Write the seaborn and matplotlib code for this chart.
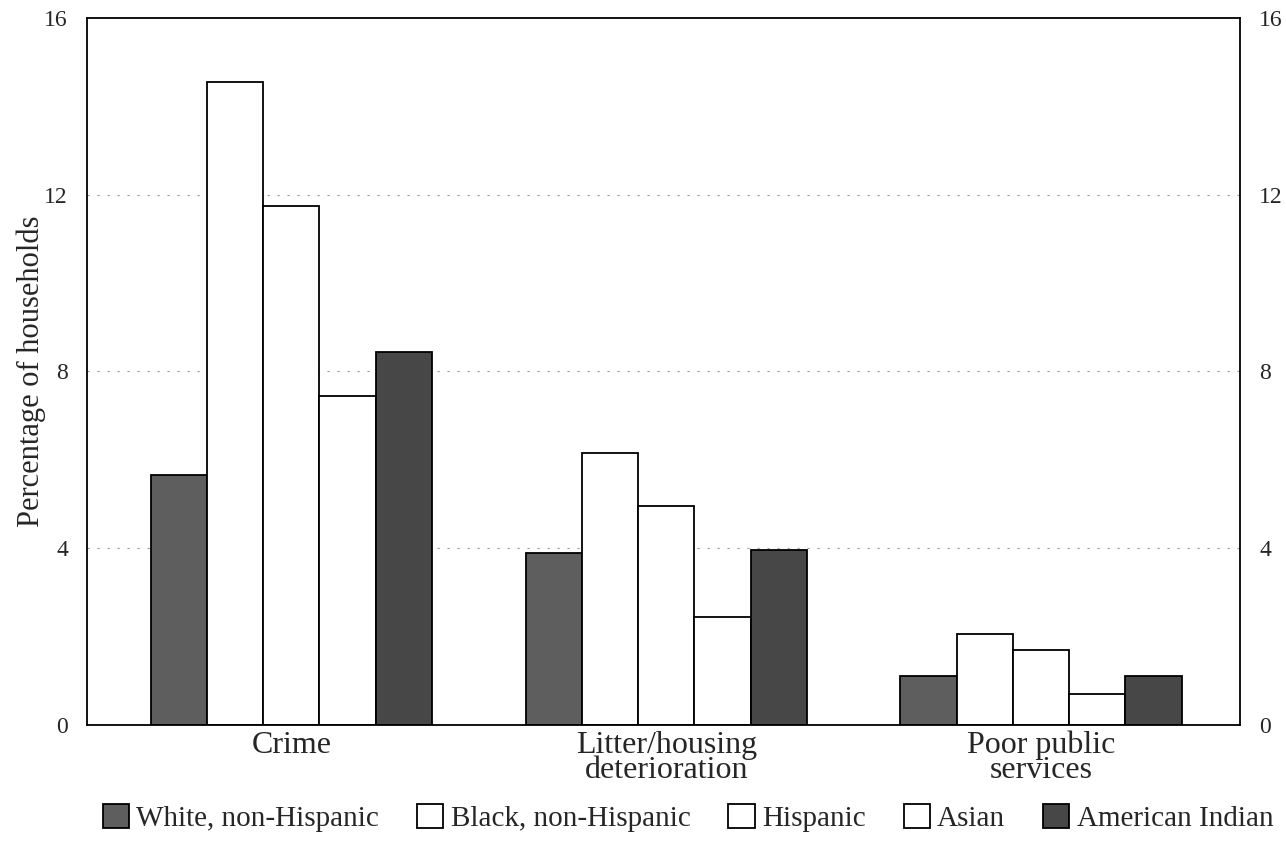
import pandas as pd
import matplotlib.pyplot as plt
import seaborn as sns
from matplotlib.patches import Patch

# data
categories = ["Crime", "Litter/housing\ndeterioration", "Poor public\nservices"]
groups = ["White, non-Hispanic", "Black, non-Hispanic", "Hispanic", "Asian", "American Indian"]
white = [5.65, 3.9, 1.1]
black = [14.55, 6.15, 2.05]
hispanic = [11.75, 4.95, 1.7]
asian = [7.45, 2.45, 0.7]
amer_indian = [8.45, 3.95, 1.1]
yticks = [0, 4, 8, 12, 16]

colors = ["#5e5e5e", "white", "white", "white", "#474747"]

df = pd.DataFrame({
    "category": categories * 5,
    "group": [g for g in groups for _ in categories],
    "value": white + black + hispanic + asian + amer_indian,
})

sns.set_style("white")
plt.rcParams["font.family"] = ["Liberation Serif", "DejaVu Serif"]

fig, ax = plt.subplots(figsize=(12.86, 8.48), dpi=100)
fig.subplots_adjust(left=0.068, right=0.964, top=0.979, bottom=0.145)

sns.barplot(data=df, x="category", y="value", hue="group", order=categories,
            hue_order=groups, palette=dict(zip(groups, colors)), width=0.75,
            edgecolor="black", linewidth=1.3, saturation=1, legend=False, ax=ax)

ax.set_xlim(-0.544, 2.53)
ax.set_ylim(0, 16)
ax.set_yticks(yticks)
ax.set_xlabel("")
ax.set_ylabel("Percentage of households", fontsize=22)
ax.yaxis.set_label_coords(-0.036, 0.5)
ax.tick_params(axis="y", length=0, labelsize=17, pad=14, labelright=True)
ax.tick_params(axis="x", length=0, labelsize=23, pad=4)
for lbl in ax.get_xticklabels():
    lbl.set_linespacing(0.82)

for y in yticks[1:-1]:
    ax.axhline(y, color="#999999", lw=0.8, ls=(0, (2, 7)), zorder=0)

for side in ["left", "right", "top", "bottom"]:
    ax.spines[side].set_visible(True)
    ax.spines[side].set_color("black")
    ax.spines[side].set_linewidth(1.3)

handles = [Patch(facecolor=c, edgecolor="black", linewidth=1.3) for c in colors]
fig.legend(handles, groups, loc="lower center", bbox_to_anchor=(0.535, -0.012), ncol=5,
           frameon=False, fontsize=21, handlelength=0.9, handleheight=0.9,
           handletextpad=0.25, columnspacing=1.3)

fig.savefig("out.png", dpi=100)
